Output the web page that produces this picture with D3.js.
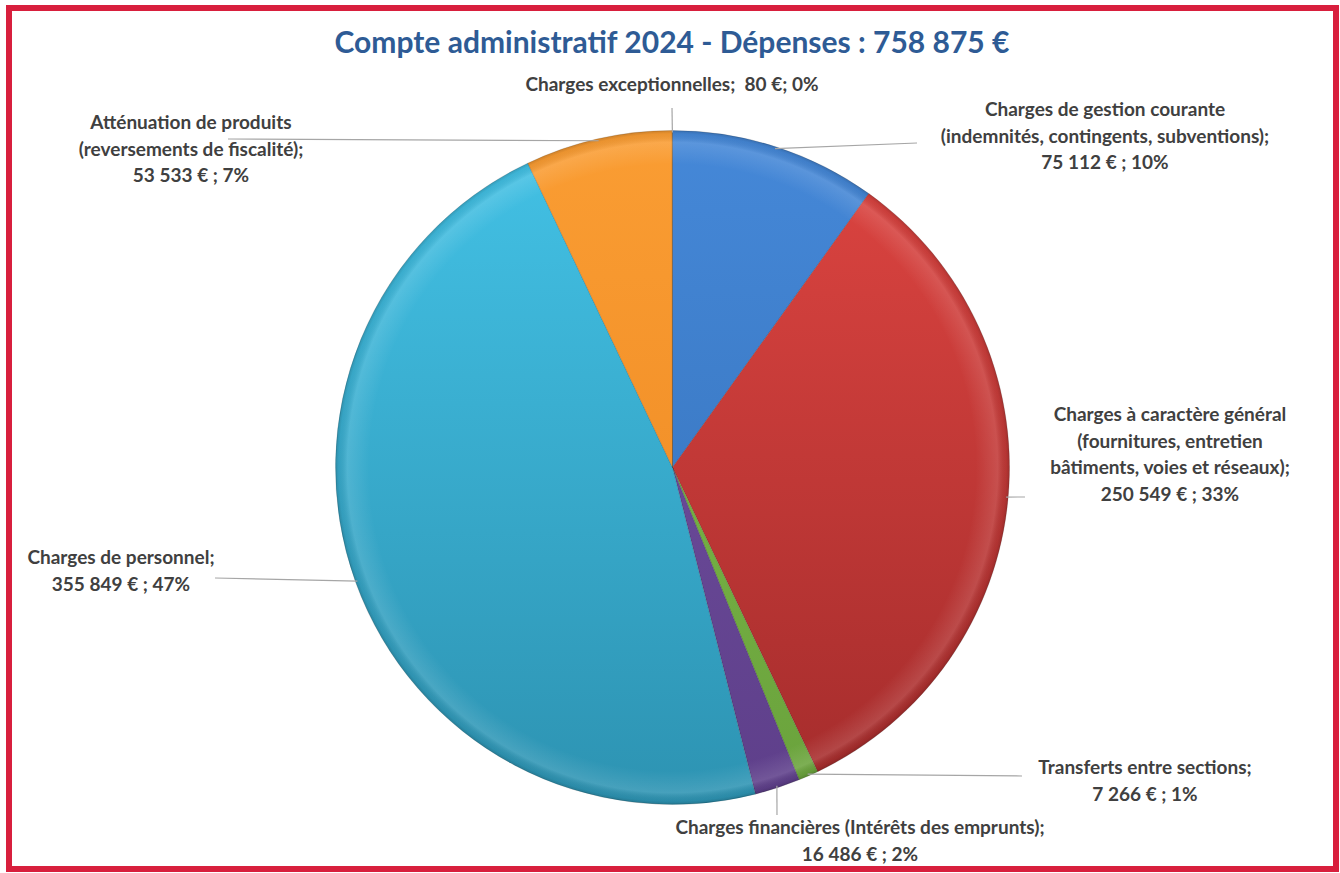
<!DOCTYPE html>
<html><head><meta charset="utf-8">
<script src="https://cdn.jsdelivr.net/npm/d3@7"></script>
<style>html,body{margin:0;padding:0;background:#fff;}svg{display:block;}</style>
</head><body>
<svg id="chart" width="1340" height="873"></svg>
<script>
// ---- data ----
const categories = [
  "Charges de gestion courante",
  "Charges à caractère général",
  "Transferts entre sections",
  "Charges financières",
  "Charges de personnel",
  "Atténuation de produits",
  "Charges exceptionnelles"
];
const values = [75112, 250549, 7266, 16486, 355849, 53533, 80];
const labelNameLines = [
  ["Charges de gestion courante", "(indemnités, contingents, subventions);"],
  ["Charges à caractère général", "(fournitures, entretien", "bâtiments, voies et réseaux);"],
  ["Transferts entre sections;"],
  ["Charges financières (Intérêts des emprunts);"],
  ["Charges de personnel;"],
  ["Atténuation de produits", "(reversements de fiscalité);"],
  ["Charges exceptionnelles;"]
];
const titleText = "Compte administratif 2024 - Dépenses : 758 875 €";

// ---- styles / layout ----
const colorsTop = ["#4588d8", "#de4541", "#80bf4c", "#7352a3", "#43c2e6", "#fa9d33", "#9a9a9a"];
const colorsBot = ["#346fb6", "#a42c2c", "#6aa23c", "#5e3f8a", "#2d93b2", "#ec8620", "#888888"];
const cx = 672.5, cy = 467.5, R = 337;
const labelFont = 19, lineStep = 26.5;
// label anchors (center x, first baseline y) and leader line end points
const labelLayout = [
  {x: 1105, y: 116, end: [917, 143]},
  {x: 1170, y: 421, end: [1025, 497]},
  {x: 1145, y: 774, end: [1022, 776]},
  {x: 860, y: 834, end: [777, 815]},
  {x: 121, y: 564, end: [215, 578]},
  {x: 191, y: 129, end: [228, 139]},
  {x: 672, y: 91, end: [672, 108]}
];

const loc = d3.formatLocale({decimal: ",", thousands: " ", grouping: [3], currency: ["", " €"]});
const fmtNum = loc.format(",d");

const svg = d3.select("#chart");
const defs = svg.append("defs");

// frame
svg.append("rect").attr("x", 9).attr("y", 8).attr("width", 1327).attr("height", 861)
  .attr("fill", "#fff").attr("stroke", "#d81f3d").attr("stroke-width", 6);

// title
svg.append("text").attr("x", 672).attr("y", 53).attr("text-anchor", "middle")
  .attr("font-family", "Lato, 'Open Sans', sans-serif").attr("font-weight", "bold")
  .attr("font-size", 30).attr("fill", "#2e5b95").text(titleText);

// gradients (in the pie group's local coordinates)
colorsTop.forEach((c, i) => {
  const gr = defs.append("linearGradient").attr("id", "g" + i)
    .attr("gradientUnits", "userSpaceOnUse")
    .attr("x1", 0).attr("y1", -R).attr("x2", 0).attr("y2", R);
  gr.append("stop").attr("offset", 0).attr("stop-color", c);
  gr.append("stop").attr("offset", 1).attr("stop-color", colorsBot[i]);
});
const bevel = defs.append("radialGradient").attr("id", "bevel")
  .attr("gradientUnits", "userSpaceOnUse").attr("cx", 0).attr("cy", 0).attr("r", R);
bevel.append("stop").attr("offset", 0.9).attr("stop-color", "#fff").attr("stop-opacity", 0);
bevel.append("stop").attr("offset", 0.965).attr("stop-color", "#fff").attr("stop-opacity", 0.12);
bevel.append("stop").attr("offset", 0.99).attr("stop-color", "#000").attr("stop-opacity", 0.06);
bevel.append("stop").attr("offset", 1).attr("stop-color", "#000").attr("stop-opacity", 0.18);

const total = d3.sum(values);
const pie = d3.pie().sort(null).startAngle(0).endAngle(2 * Math.PI)(values);
const arc = d3.arc().innerRadius(0).outerRadius(R);
const rimArc = d3.arc().innerRadius(R - 2).outerRadius(R - 2);

const g = svg.append("g").attr("transform", `translate(${cx},${cy})`);
g.selectAll("path.slice").data(pie).join("path").attr("class", "slice")
  .attr("d", arc)
  .attr("fill", (d, i) => `url(#g${i})`)
  .attr("stroke", "rgba(0,0,0,0.18)").attr("stroke-width", 0.8);
g.append("circle").attr("r", R).attr("fill", "url(#bevel)").attr("pointer-events", "none");

// leader lines
const lines = svg.append("g");
pie.forEach((d, i) => {
  const c = rimArc.centroid(d);
  const L = labelLayout[i];
  lines.append("line")
    .attr("x1", cx + c[0]).attr("y1", cy + c[1])
    .attr("x2", L.end[0]).attr("y2", L.end[1])
    .attr("stroke", "#a6a6a6").attr("stroke-width", 1.2);
});

// labels
const labels = svg.append("g").attr("font-family", "Lato, 'Open Sans', sans-serif")
  .attr("font-weight", "bold").attr("font-size", labelFont).attr("fill", "#404040");
pie.forEach((d, i) => {
  const L = labelLayout[i];
  const pct = Math.round(d.value / total * 100) + "%";
  const t = labels.append("text").attr("text-anchor", "middle").attr("x", L.x).attr("y", L.y)
    .attr("xml:space", "preserve").style("white-space", "pre");
  const nameLines = labelNameLines[i];
  if (i === values.length - 1) {
    t.text(nameLines[0] + "  " + fmtNum(d.value) + " €; " + pct);
  } else {
    const all = nameLines.concat([fmtNum(d.value) + " € ; " + pct]);
    all.forEach((ln, k) => {
      t.append("tspan").attr("x", L.x).attr("dy", k === 0 ? 0 : lineStep).text(ln);
    });
  }
});
</script>
</body></html>
